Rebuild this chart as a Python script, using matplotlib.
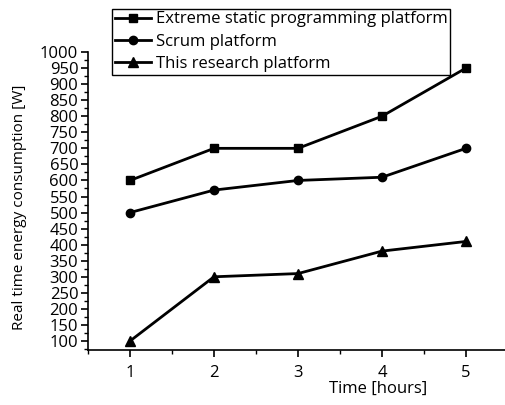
import matplotlib.pyplot as plt
from matplotlib.ticker import MultipleLocator

hours = [1, 2, 3, 4, 5]
extreme = [600, 700, 700, 800, 950]
scrum = [500, 570, 600, 610, 700]
research = [100, 300, 310, 380, 410]

plt.rcParams['font.family'] = ['Open Sans', 'DejaVu Sans']

fig = plt.figure(figsize=(5.05, 4.05), dpi=100)
ax = fig.add_axes([88 / 505, 55 / 405, 420 / 505, 298 / 405])

ax.plot(hours, extreme, 'k-s', lw=2, ms=6, label='Extreme static programming platform')
ax.plot(hours, scrum, 'k-o', lw=2, ms=6, label='Scrum platform')
ax.plot(hours, research, 'k-^', lw=2, ms=7, label='This research platform')

ax.set_xlim(0.5, 5.5)
ax.set_xticks(hours)
ax.xaxis.set_minor_locator(MultipleLocator(0.5))
ax.set_yticks(range(100, 1001, 50))
ax.yaxis.set_minor_locator(MultipleLocator(25))
ax.set_ylim(72, 1000)

for s in ['top', 'right']:
    ax.spines[s].set_visible(False)
ax.spines['left'].set_linewidth(1.2)
ax.spines['bottom'].set_linewidth(1.2)
ax.tick_params(which='major', length=5, width=1.2, labelsize=12, pad=2)
ax.tick_params(which='minor', length=3, width=1)
ax.tick_params(axis='x', pad=6)

ax.set_xlabel('Time [hours]', fontsize=12)
ax.xaxis.set_label_coords(0.69, -0.105)
ax.set_ylabel('Real time energy consumption [W]', fontsize=11)
ax.yaxis.set_label_coords(-0.145, 0.48)

leg = fig.legend(loc='upper left', bbox_to_anchor=(112 / 505, 1 - 9 / 405),
                 fontsize=12, frameon=True, fancybox=False, edgecolor='black',
                 framealpha=1, borderaxespad=0, handlelength=2.2,
                 labelspacing=0.38, borderpad=0.15, handletextpad=0.3)
leg.get_frame().set_linewidth(1)

fig.savefig('out.png', dpi=100)
